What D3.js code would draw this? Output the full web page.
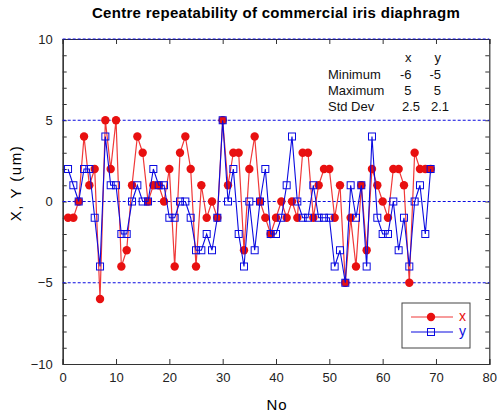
<!DOCTYPE html>
<html>
<head>
<meta charset="utf-8">
<script src="https://cdn.jsdelivr.net/npm/d3@7"></script>
<style>
  body { margin: 0; background: #fff; }
  svg { font-family: "Liberation Sans", Arial, sans-serif; }
</style>
</head>
<body>
<svg width="497" height="413"></svg>
<script>
const xValues = [-1,-1,0,4,1,2,-6,5,2,5,-4,-3,1,4,3,0,1,1,0,2,-4,3,4,2,-4,1,-1,0,-1,5,
  1,3,3,-3,2,4,0,-1,-2,-1,0,-1,0,-1,3,3,-1,1,2,2,-1,1,-5,-1,-4,1,-3,2,1,0,
  -1,2,2,1,-5,3,2,2,2];
const yValues = [2,1,0,2,2,-1,-4,4,1,1,-2,-2,0,1,0,0,2,1,1,-1,-1,0,0,-1,-3,-3,-2,-3,-1,5,
  0,2,-2,-4,0,-3,0,2,-2,-2,-1,1,4,0,-1,-1,1,-1,-1,-1,-4,-3,-5,1,-1,1,-4,4,-1,-2,
  -2,0,-3,-1,-4,0,1,-2,2];
const statRows = ['Minimum', 'Maximum', 'Std Dev'];
const statX = ['-6', '5', '2.5'];
const statY = ['-5', '5', '2.1'];
const xTicks = [0, 10, 20, 30, 40, 50, 60, 70, 80];
const yTicks = [-10, -5, 0, 5, 10];
const gridLines = [-5, 0, 5, 10];

const red = '#e81010', blue = '#0a0ae0';
const svg = d3.select('svg');

const x = d3.scaleLinear().domain([0, 80]).range([62.7, 489.3]);
const y = d3.scaleLinear().domain([-10, 10]).range([364, 39]);

const points = xValues.map((v, i) => ({n: i + 1, x: v, y: yValues[i]}));

// title
svg.append('text')
    .attr('x', 276).attr('y', 18)
    .attr('text-anchor', 'middle')
    .attr('font-size', 15).attr('font-weight', 'bold')
    .attr('letter-spacing', 0.3)
    .text('Centre repeatability of commercial iris diaphragm');

// axes (ticks pointing inward)
svg.append('g')
    .attr('transform', `translate(0,${y(-10)})`)
    .call(d3.axisBottom(x).tickValues(xTicks).tickSize(-5).tickPadding(9).tickFormat(d3.format('d')));
svg.append('g')
    .attr('transform', `translate(0,${y(10)})`)
    .call(d3.axisTop(x).tickValues(xTicks).tickSize(-5).tickFormat(''));
svg.append('g')
    .attr('transform', `translate(${x(0)},0)`)
    .call(d3.axisLeft(y).ticks(20).tickSize(-4).tickFormat(''));
svg.append('g')
    .attr('transform', `translate(${x(0)},0)`)
    .call(d3.axisLeft(y).tickValues(yTicks).tickSize(0).tickPadding(10).tickFormat(d3.format('d')));
svg.append('g')
    .attr('transform', `translate(${x(80)},0)`)
    .call(d3.axisRight(y).ticks(20).tickSize(-4).tickFormat(''));

svg.selectAll('.domain').attr('stroke', '#333').attr('stroke-width', 1.2);
svg.selectAll('.tick line').attr('stroke', '#333');
svg.selectAll('.tick text').attr('font-size', 13).attr('fill', '#222')
    .attr('font-family', '"Liberation Sans", Arial, sans-serif');

// dashed grid, drawn over the frame like the original
svg.append('g').selectAll('line').data(gridLines)
  .enter().append('line')
    .attr('x1', x(0)).attr('x2', x(80))
    .attr('y1', d => y(d)).attr('y2', d => y(d))
    .attr('stroke', blue).attr('stroke-width', 1)
    .attr('stroke-dasharray', '3,2');

// axis titles
svg.append('text')
    .attr('transform', `translate(21,183) rotate(-90)`)
    .attr('text-anchor', 'middle').attr('font-size', 15)
    .attr('letter-spacing', 1.5)
    .text('X, Y (um)');
svg.append('text')
    .attr('x', 277).attr('y', 410)
    .attr('text-anchor', 'middle').attr('font-size', 15)
    .attr('letter-spacing', 1)
    .text('No');

// series
const line = key => d3.line().x(d => x(d.n)).y(d => y(d[key]));

svg.append('path').datum(points)
    .attr('d', line('x'))
    .attr('fill', 'none').attr('stroke', '#f03838').attr('stroke-width', 1.2);
svg.append('g').selectAll('circle').data(points)
  .enter().append('circle')
    .attr('cx', d => x(d.n)).attr('cy', d => y(d.x))
    .attr('r', 4.2).attr('fill', red);

svg.append('path').datum(points)
    .attr('d', line('y'))
    .attr('fill', 'none').attr('stroke', blue).attr('stroke-width', 1.1);
svg.append('g').selectAll('rect').data(points)
  .enter().append('rect')
    .attr('x', d => x(d.n) - 3.5).attr('y', d => y(d.y) - 3.5)
    .attr('width', 7).attr('height', 7)
    .attr('fill', 'none').attr('stroke', blue).attr('stroke-width', 1);

// statistics box
const stats = svg.append('g').attr('font-size', 13).attr('fill', '#111');
stats.append('text').attr('x', 411.5).attr('y', 62).attr('text-anchor', 'end').text('x');
stats.append('text').attr('x', 441).attr('y', 62).attr('text-anchor', 'end').text('y');
statRows.forEach((r, i) => {
  const yy = 79 + i * 16;
  stats.append('text').attr('x', 328).attr('y', yy).text(r);
  const isDec = statX[i].includes('.');
  stats.append('text').attr('x', isDec ? 402 : 411.5).attr('y', yy)
      .attr('text-anchor', isDec ? 'start' : 'end').text(statX[i]);
  stats.append('text').attr('x', isDec ? 431 : 441).attr('y', yy)
      .attr('text-anchor', isDec ? 'start' : 'end').text(statY[i]);
});

// legend
const lg = svg.append('g').attr('transform', 'translate(402,303)');
lg.append('rect').attr('width', 68).attr('height', 45)
    .attr('fill', '#fff').attr('stroke', '#444').attr('stroke-width', 1);
lg.append('line').attr('x1', 9).attr('x2', 51).attr('y1', 14).attr('y2', 14)
    .attr('stroke', '#f03838').attr('stroke-width', 1.2);
lg.append('circle').attr('cx', 29).attr('cy', 14).attr('r', 4.2).attr('fill', red);
lg.append('text').attr('x', 57).attr('y', 18).attr('font-size', 14).attr('fill', red).text('x');
lg.append('line').attr('x1', 9).attr('x2', 51).attr('y1', 29).attr('y2', 29)
    .attr('stroke', blue).attr('stroke-width', 1.1);
lg.append('rect').attr('x', 25.5).attr('y', 25.5).attr('width', 7).attr('height', 7)
    .attr('fill', 'none').attr('stroke', blue);
lg.append('text').attr('x', 57).attr('y', 33).attr('font-size', 14).attr('fill', blue).text('y');
</script>
</body>
</html>
